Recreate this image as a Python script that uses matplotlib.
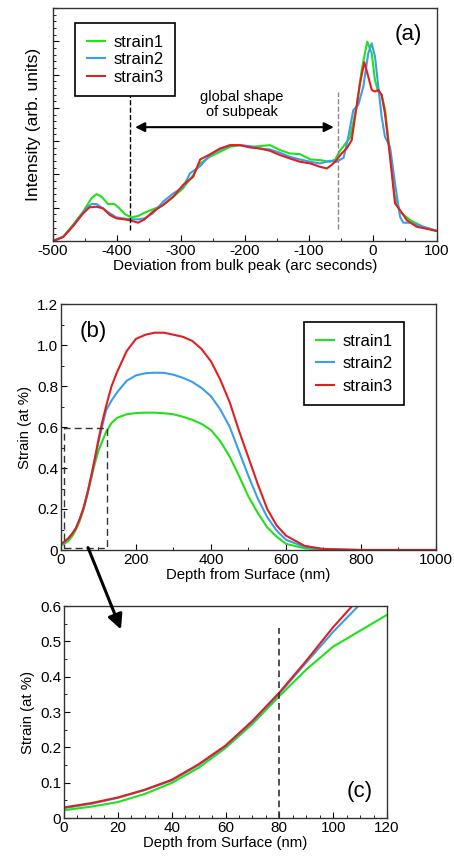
import matplotlib
matplotlib.use("Agg")
import matplotlib.pyplot as plt
from matplotlib.ticker import AutoMinorLocator, MultipleLocator
from matplotlib.patches import FancyArrowPatch

plt.rcParams['font.family'] = ['Liberation Sans', 'DejaVu Sans']
plt.rcParams['axes.unicode_minus'] = False

GREEN = '#22e01a'
BLUE = '#3a9ee8'
RED = '#e02020'
labels = ['strain1', 'strain2', 'strain3']

# (a) rocking curves, intensity in arb. units
a_x1 = [-500, -484, -469, -453, -440, -432, -424, -414, -404, -396, -388, -378, -367, -357,
        -344, -328, -312, -297, -281, -270, -255, -239, -223, -208, -192, -177, -161, -145,
        -130, -114, -98, -83, -67, -59, -52, -44, -36, -25.5, -17.7, -9, -2, 3, 8, 13.5,
        19, 27, 34, 42, 58, 78, 100]
a_y1 = [0.0, 0.13, 0.48, 0.88, 1.28, 1.41, 1.33, 1.11, 1.11, 0.98, 0.81, 0.71, 0.75, 0.85,
        0.95, 1.08, 1.33, 1.58, 1.98, 2.33, 2.53, 2.68, 2.83, 2.88, 2.83, 2.85, 2.88, 2.73,
        2.63, 2.61, 2.45, 2.43, 2.38, 2.45, 2.7, 2.9, 3.1, 4.03, 5.14, 5.99, 5.64, 4.84,
        4.49, 4.39, 3.93, 2.53, 1.33, 0.88, 0.63, 0.43, 0.3]
a_x2 = [-500, -484, -469, -448, -440, -432, -422, -411, -401, -391, -378, -367, -357, -344,
        -328, -312, -297, -286, -270, -255, -239, -223, -208, -192, -177, -161, -145, -130,
        -114, -98, -83, -67, -57, -46, -38.6, -30.8, -23, -15.2, -7.4, -2, 3.1, 8.3, 13.5,
        18.7, 26.6, 34.4, 42.2, 47.3, 57.8, 78, 100]
a_y2 = [0.0, 0.13, 0.45, 0.98, 1.11, 1.11, 0.98, 0.83, 0.71, 0.68, 0.65, 0.65, 0.68, 0.83,
        1.18, 1.43, 1.61, 2.03, 2.25, 2.58, 2.75, 2.88, 2.88, 2.85, 2.78, 2.75, 2.65, 2.53,
        2.45, 2.38, 2.33, 2.41, 2.38, 2.5, 3.13, 3.93, 4.09, 4.63, 5.64, 5.94, 5.54, 4.63,
        3.73, 3.13, 2.83, 1.73, 0.73, 0.55, 0.55, 0.43, 0.3]
a_x3 = [-500, -484, -469, -453, -443, -432, -422, -411, -401, -388, -378, -367, -357, -344,
        -328, -312, -297, -281, -270, -255, -239, -223, -208, -192, -177, -161, -145, -130,
        -114, -98, -83, -72, -65, -59.4, -49, -41.1, -33.3, -26.6, -20.3, -13.5, -7.4, -2,
        3.1, 8.3, 13.5, 18.7, 26.6, 34.4, 42.2, 52.6, 68, 100]
a_y3 = [0.0, 0.12, 0.44, 0.83, 1.01, 1.03, 0.98, 0.78, 0.68, 0.65, 0.61, 0.55, 0.65, 0.88,
        1.08, 1.33, 1.68, 1.93, 2.45, 2.6, 2.78, 2.88, 2.88, 2.81, 2.78, 2.71, 2.58, 2.48,
        2.38, 2.33, 2.23, 2.18, 2.28, 2.38, 2.63, 2.78, 3.03, 3.93, 4.74, 5.37, 4.94, 4.54,
        4.49, 4.54, 4.39, 3.83, 2.53, 1.13, 0.93, 0.63, 0.43, 0.3]

# (b)/(c) strain depth profiles, depth in nm, strain in at %
d_x = [0, 10, 20, 30, 40, 50, 60, 70, 80, 90, 100, 110, 120, 135, 150, 175, 200, 225, 250,
       275, 300, 325, 350, 375, 400, 425, 450, 475, 500, 525, 550, 575, 600, 650, 700, 800,
       900, 1000]
d_y1 = [0.022, 0.032, 0.045, 0.068, 0.099, 0.142, 0.198, 0.266, 0.345, 0.42, 0.485, 0.53,
        0.575, 0.62, 0.645, 0.662, 0.668, 0.670, 0.670, 0.667, 0.662, 0.65, 0.635, 0.615,
        0.585, 0.53, 0.455, 0.36, 0.26, 0.18, 0.11, 0.065, 0.03, 0.008, 0.002, 0.0, 0.0, 0.0]
d_y2 = [0.028, 0.040, 0.057, 0.079, 0.106, 0.150, 0.203, 0.272, 0.352, 0.44, 0.527, 0.605,
        0.68, 0.73, 0.77, 0.825, 0.852, 0.862, 0.865, 0.864, 0.855, 0.84, 0.82, 0.79,
        0.75, 0.685, 0.60, 0.48, 0.36, 0.25, 0.16, 0.095, 0.05, 0.015, 0.003, 0.0, 0.0, 0.0]
d_y3 = [0.030, 0.042, 0.058, 0.080, 0.108, 0.152, 0.205, 0.275, 0.355, 0.445, 0.54, 0.625,
        0.70, 0.80, 0.87, 0.97, 1.03, 1.05, 1.06, 1.06, 1.05, 1.04, 1.02, 0.98, 0.92, 0.83,
        0.72, 0.58, 0.45, 0.32, 0.20, 0.12, 0.07, 0.02, 0.005, 0.0, 0.0, 0.0]

fig = plt.figure(figsize=(4.54, 8.59), dpi=100)
W, H = 454.0, 859.0


def add_ax(l, t, r, b):
    return fig.add_axes([l / W, 1 - b / H, (r - l) / W, (b - t) / H])


def style(ax):
    ax.tick_params(which='both', direction='in', labelsize=11, top=False, right=False)
    ax.tick_params(which='major', length=4, pad=2)
    ax.tick_params(which='minor', length=2)
    for s in ax.spines.values():
        s.set_linewidth(1.0)
        s.set_color('#333333')


def legend(ax, loc, anchor, spacing):
    leg = ax.legend(loc=loc, bbox_to_anchor=anchor, borderaxespad=0, fontsize=12,
                    handlelength=1.1, handletextpad=0.5, borderpad=0.7,
                    labelspacing=spacing, fancybox=False, framealpha=1)
    leg.get_frame().set_edgecolor('black')
    leg.get_frame().set_linewidth(1.2)


series_a = [(a_x1, a_y1, GREEN), (a_x2, a_y2, BLUE), (a_x3, a_y3, RED)]
series_d = [(d_y1, GREEN), (d_y2, BLUE), (d_y3, RED)]

# ---- (a)
ax = add_ax(53, 8, 437, 241)
for (x, y, c), lab in zip(series_a, labels):
    ax.plot(x, y, color=c, lw=1.5, label=lab)
ax.set_xlim(-500, 100)
ax.set_ylim(0, 7)
ax.xaxis.set_major_locator(MultipleLocator(100))
ax.xaxis.set_minor_locator(AutoMinorLocator(2))
ax.yaxis.set_major_locator(MultipleLocator(1))
ax.yaxis.set_minor_locator(AutoMinorLocator(5))
ax.set_yticklabels([])
style(ax)
ax.set_xlabel('Deviation from bulk peak (arc seconds)', fontsize=11, labelpad=1)
ax.set_ylabel('Intensity (arb. units)', fontsize=12.5, labelpad=5)
ax.plot([-379, -379], [0.32, 4.37], color='black', lw=1.0, ls='--')
ax.plot([-54, -54], [0.37, 4.47], color='#888888', lw=1.0, ls='--')
ax.annotate('', xy=(-376, 3.42), xytext=(-57, 3.42),
            arrowprops=dict(arrowstyle='<|-|>', color='black', lw=1.5, mutation_scale=14))
ax.text(-205, 4.1, 'global shape\nof subpeak', ha='center', va='center', fontsize=10.5,
        linespacing=1.05)
ax.text(55, 6.2, '(a)', ha='center', va='center', fontsize=16)
legend(ax, 'upper left', (0.057, 0.936), 0.15)

# ---- (b)
ax = add_ax(61, 304, 436, 550)
for (y, c), lab in zip(series_d, labels):
    ax.plot(d_x, y, color=c, lw=1.5, label=lab)
ax.set_xlim(0, 1000)
ax.set_ylim(0, 1.2)
ax.set_xticks([0, 200, 400, 600, 800, 1000])
ax.xaxis.set_minor_locator(AutoMinorLocator(2))
ax.set_yticks([0, 0.2, 0.4, 0.6, 0.8, 1.0, 1.2])
ax.set_yticklabels(['0', '0.2', '0.4', '0.6', '0.8', '1.0', '1.2'])
ax.yaxis.set_minor_locator(AutoMinorLocator(2))
style(ax)
ax.set_xlabel('Depth from Surface (nm)', fontsize=10.7, labelpad=1)
ax.set_ylabel('Strain (at %)', fontsize=10.7, labelpad=4)
ax.plot([7, 124, 124, 7, 7], [0.011, 0.011, 0.597, 0.597, 0.011], color='#333333', lw=1.0,
        ls=(0, (5, 3)))
ax.text(85, 1.065, '(b)', ha='center', va='center', fontsize=16)
legend(ax, 'upper right', (0.915, 0.927), 0.45)

# ---- (c)
ax = add_ax(64, 606, 387, 818)
for y, c in series_d:
    ax.plot(d_x, y, color=c, lw=1.5)
ax.set_xlim(0, 120)
ax.set_ylim(0, 0.6)
ax.xaxis.set_major_locator(MultipleLocator(20))
ax.xaxis.set_minor_locator(AutoMinorLocator(4))
ax.set_yticks([0, 0.1, 0.2, 0.3, 0.4, 0.5, 0.6])
ax.set_yticklabels(['0', '0.1', '0.2', '0.3', '0.4', '0.5', '0.6'])
ax.yaxis.set_minor_locator(AutoMinorLocator(2))
style(ax)
ax.set_xlabel('Depth from Surface (nm)', fontsize=10.7, labelpad=1)
ax.set_ylabel('Strain (at %)', fontsize=10.7, labelpad=4)
ax.plot([80, 80], [0, 0.537], color='#333333', lw=1.2, ls=(0, (4, 2.5)))
ax.text(110, 0.075, '(c)', ha='center', va='center', fontsize=16)

# arrow from the dashed box in (b) down to (c)
fig.add_artist(FancyArrowPatch(
    (87 / W, 1 - 545 / H), (122 / W, 1 - 632 / H), transform=fig.transFigure,
    arrowstyle='-|>', mutation_scale=22, lw=2.2, color='black'))

fig.savefig('out.png', dpi=100)
